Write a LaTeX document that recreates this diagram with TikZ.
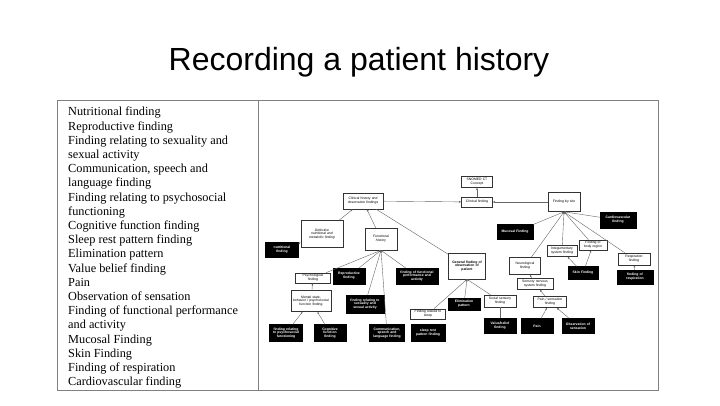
\documentclass[tikz,border=0pt]{standalone}
\usetikzlibrary{arrows.meta}
\usepackage{fontspec}
\setmainfont{Liberation Serif}
\newfontfamily\sans{Liberation Sans}
\begin{document}
\begin{tikzpicture}[x=1pt,y=-1pt,
 wb/.style={draw=black!80,line width=0.6pt,fill=white,font=\sans\fontsize{3.4}{3.8}\selectfont,align=center,inner xsep=0pt,inner ysep=0.5pt},
 bb/.style={draw=black,fill=black,text=white,font=\sans\bfseries\fontsize{3.4}{3.8}\selectfont,align=center,inner xsep=0pt,inner ysep=0.5pt},
 ed/.style={draw=black!60,line width=0.4pt,-{Latex[length=2pt,width=2pt]}},
 ln/.style={draw=black!60,line width=0.4pt}]
\newcommand\bx[6]{\node[#1,text width=#4pt,minimum height=#5pt] (#2) at (#3) {#6};}
\useasboundingbox (0,0) rectangle (720,405);
\fill[white] (0,0) rectangle (720,405);
\node[font=\sans\fontsize{32}{36}\selectfont] (title) at (359,62) {Recording a patient history};
\draw[black!50,line width=0.8pt] (57,100) rectangle (658,390);
\draw[black!50,line width=0.8pt] (258,100) -- (258,390);
\node[anchor=north west,align=left,font=\fontsize{12.3}{14.2}\selectfont,inner sep=0pt] (list) at (68,107) {Nutritional finding\\Reproductive finding\\Finding relating to sexuality and\\sexual activity\\Communication, speech and\\language finding\\Finding relating to psychosocial\\functioning\\Cognitive function finding\\Sleep rest pattern finding\\Elimination pattern\\Value belief finding\\Pain\\Observation of sensation\\Finding of functional performance\\and activity\\Mucosal Finding\\Skin Finding\\Finding of respiration\\Cardiovascular finding};
% nodes
\bx{wb}{ch}{363,201}{40}{16}{Clinical history and\\observation findings}
\bx{wb}{def}{322,234}{42}{27}{\itshape Defective\\\itshape nutritional and\\\itshape metabolic finding}
\bx{bb}{nut}{282,250}{33}{15}{nutritional\\finding}
\bx{wb}{fun}{381,239}{32}{22}{\itshape Functional\\\itshape history}
\bx{wb}{gen}{467,266}{37}{26}{\bfseries General finding of\\\bfseries observation of\\\bfseries patient}
\bx{wb}{sno}{477,182}{31}{11}{SNOMED CT\\Concept}
\bx{wb}{cli}{477,202}{31}{10}{Clinical finding}
\bx{wb}{site}{564,202}{32}{19}{Finding by site}
\bx{bb}{card}{618,220}{36}{16}{Cardiovascular\\finding}
\bx{bb}{muc}{515,232}{36}{15}{Mucosal Finding}
\bx{wb}{integ}{562,251}{30}{11}{Integumentary\\system finding}
\bx{wb}{body}{593,245}{28}{10}{Finding of\\body region}
\bx{wb}{resp}{634,259}{32}{12}{Respiration\\finding}
\bx{bb}{fresp}{635,277}{36}{14}{finding of\\respiration}
\bx{bb}{skin}{583,273}{30}{13}{Skin Finding}
\bx{wb}{neu}{525,266}{31}{17}{Neurological\\finding}
\bx{wb}{sens}{535,284}{36}{11}{Sensory nervous\\system finding}
\bx{wb}{pains}{550,302}{33}{11}{Pain / sensation\\finding}
\bx{bb}{pain}{537,326}{32}{15}{Pain}
\bx{bb}{obs}{578,326}{32}{15}{Observation of\\sensation}
\bx{bb}{val}{500,326}{32}{15}{Value/belief\\finding}
\bx{wb}{soc}{500,301}{32}{12}{Social sensory\\finding}
\bx{bb}{eli}{464,304}{32}{12}{Elimination\\pattern}
\bx{wb}{psy}{313,278}{35}{10}{Psychological\\finding}
\bx{bb}{rep}{349,276}{32}{16}{Reproductive\\finding}
\bx{bb}{ffp}{417,276}{42}{16}{finding of functional\\performance and\\activity}
\bx{wb}{men}{311,301}{40}{21}{Mental state,\\behavior / psychosocial\\function finding}
\bx{bb}{sex}{365,304}{38}{18}{finding relating to\\sexuality and\\sexual activity}
\bx{bb}{psf}{286,333}{33}{17}{finding relating\\to psychosocial\\functioning}
\bx{bb}{cog}{330,333}{32}{17}{Cognitive\\function\\finding}
\bx{bb}{com}{387,333}{35}{17}{Communication,\\speech and\\language finding}
\bx{wb}{frs}{428,314}{35}{10}{Finding related to\\sleep}
\bx{bb}{slp}{428,333}{34}{17}{sleep rest\\pattern finding}
% edges
\draw[ed] (def) -- (ch);
\draw[ed] (nut) -- (def);
\draw[ed] (fun) -- (ch);
\draw[ln] (ch) -- (gen);
\draw[ed] (ch) -- (cli);
\draw[ed] (cli) -- (sno);
\draw[ed] (site) -- (cli);
\foreach \n in {card,muc,integ,body,resp,neu} \draw[ed] (\n) -- (site.south);
\draw[ed] (skin) -- (integ);
\draw[ed] (skin) -- (body);
\draw[ed] (fresp) -- (resp);
\draw[ed] (sens) -- (neu);
\draw[ed] (pains) -- (sens);
\draw[ed] (pain) -- (pains);
\draw[ed] (obs) -- (pains);
\foreach \n in {eli,soc,frs} \draw[ed] (\n) -- (gen.south);
\draw[ln] (val) -- (soc);
\foreach \n in {psy,rep,ffp,sex,com} \draw[ed] (\n) -- (fun.south);
\draw[ed] (men) -- (psy);
\draw[ed] (psf) -- (men);
\draw[ed] (cog) -- (men);
\end{tikzpicture}
\end{document}
